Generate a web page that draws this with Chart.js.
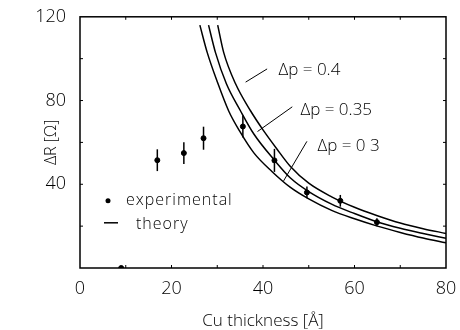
<!DOCTYPE html>
<html>
<head>
<meta charset="utf-8">
<script src="https://cdn.jsdelivr.net/npm/chart.js@4"></script>
<style>
  html, body { margin: 0; padding: 0; background: #fff; }
  #wrap { width: 460px; height: 330px; }
</style>
</head>
<body>
<div id="wrap"><canvas id="deltaChart" width="460" height="330"></canvas></div>
<script>
// =========================
// DATA
// =========================
const xTickLabels = [0, 20, 40, 60, 80];
const yTickLabels = [40, 80, 120];

// experimental points, ΔR in ohm vs Cu thickness in Å
const expThickness = [9, 16.9, 22.7, 27.0, 35.6, 42.5, 49.6, 56.9, 64.9];
const expDeltaR    = [0, 51.5, 54.9, 62.0, 67.6, 51.4, 36.1, 32.1, 21.9];
const expError     = [0, 5.2, 5.2, 5.5, 5.2, 5.5, 2.8, 2.8, 1.9];

// theory curves
const theoryX04 = [30.1, 31.4, 34, 37.3, 40, 43, 46, 50, 55, 60, 65, 70, 75, 80];
const theoryY04 = [116, 103, 88, 75, 66, 57, 48.5, 40.5, 34, 29, 25, 21.5, 18.8, 16.5];

const theoryX035 = [28.1, 29.6, 32, 35.1, 38, 42.5, 46, 50, 55, 60, 65, 70, 75, 80];
const theoryY035 = [116, 103, 88, 75, 64, 51.5, 43, 36.5, 30.5, 26, 22, 19, 16.5, 14.2];

const theoryX03 = [26.2, 27.8, 30, 32.5, 35, 38, 42, 46, 50, 55, 60, 65, 70, 75, 80];
const theoryY03 = [116, 103, 89, 75, 65, 55, 46, 38.5, 33, 27.5, 23.5, 20, 17, 14.3, 12];

// curve labels: text, text anchor (x, y), leader start, leader end (data units)
const curveLabels = ["Δp = 0.4", "Δp = 0.35", "Δp = 0 3"];
const labelAt   = [[43.4, 94.5], [48.2, 75.6], [51.9, 58.1]];
const leaderFrom = [[40.9, 95.1], [46.4, 77.0], [49.6, 60.5]];
const leaderTo   = [[36.2, 88.8], [38.8, 65.2], [44.5, 41.6]];

const FONT = "'Open Sans', 'Liberation Sans', sans-serif";

const pts = (xs, ys) => xs.map((x, i) => ({ x: x, y: ys[i] }));

const theoryStyle = {
    type: "line",
    borderColor: "#000",
    borderWidth: 1.5,
    pointRadius: 0,
    fill: false,
    cubicInterpolationMode: "monotone"
};

// =========================
// EXTRA DRAWING (error bars, frame, ticks, legend, labels)
// =========================
const decor = {
    id: "decor",
    afterDatasetsDraw(chart) {
        const ctx = chart.ctx;
        const xs = chart.scales.x;
        const ys = chart.scales.y;
        const area = chart.chartArea;

        ctx.save();
        ctx.strokeStyle = "#000";
        ctx.fillStyle = "#000";

        // error bars
        ctx.lineWidth = 1.5;
        expThickness.forEach((t, i) => {
            if (!expError[i]) return;
            const px = xs.getPixelForValue(t);
            ctx.beginPath();
            ctx.moveTo(px, ys.getPixelForValue(expDeltaR[i] - expError[i]));
            ctx.lineTo(px, ys.getPixelForValue(expDeltaR[i] + expError[i]));
            ctx.stroke();
        });

        // frame
        ctx.lineWidth = 1.5;
        ctx.strokeRect(area.left, area.top, area.right - area.left, area.bottom - area.top);

        // small inward ticks
        ctx.lineWidth = 1;
        for (let v = 10; v < 80; v += 10) {
            const px = xs.getPixelForValue(v);
            ctx.beginPath();
            ctx.moveTo(px, area.bottom); ctx.lineTo(px, area.bottom - 3);
            ctx.moveTo(px, area.top); ctx.lineTo(px, area.top + 3);
            ctx.stroke();
        }
        for (let v = 20; v < 120; v += 20) {
            const py = ys.getPixelForValue(v);
            ctx.beginPath();
            ctx.moveTo(area.left, py); ctx.lineTo(area.left + 3, py);
            ctx.moveTo(area.right, py); ctx.lineTo(area.right - 3, py);
            ctx.stroke();
        }

        // curve labels with leader lines
        ctx.font = "300 17px " + FONT;
        ctx.textBaseline = "middle";
        ctx.textAlign = "left";
        curveLabels.forEach((txt, i) => {
            ctx.beginPath();
            ctx.moveTo(xs.getPixelForValue(leaderFrom[i][0]), ys.getPixelForValue(leaderFrom[i][1]));
            ctx.lineTo(xs.getPixelForValue(leaderTo[i][0]), ys.getPixelForValue(leaderTo[i][1]));
            ctx.stroke();
            ctx.fillText(txt, xs.getPixelForValue(labelAt[i][0]), ys.getPixelForValue(labelAt[i][1]));
        });

        // legend
        const lx = area.left + 24;
        const ly = area.top + 184;
        ctx.beginPath();
        ctx.arc(lx + 4, ly, 2.5, 0, Math.PI * 2);
        ctx.fill();
        ctx.lineWidth = 1.5;
        ctx.beginPath();
        ctx.moveTo(lx, ly + 22); ctx.lineTo(lx + 14, ly + 22);
        ctx.stroke();
        ctx.font = "300 16px " + FONT;
        ctx.letterSpacing = "1px";
        ctx.fillText("experimental", lx + 22, ly);
        ctx.fillText("theory", lx + 32, ly + 24);

        ctx.restore();
    }
};

const canvas = document.getElementById("deltaChart");
const ctx = canvas.getContext("2d");

new Chart(ctx, {
    type: "scatter",
    data: {
        datasets: [
            {
                label: "experimental",
                data: pts(expThickness, expDeltaR),
                showLine: false,
                pointRadius: 2.5,
                pointBackgroundColor: "#000",
                pointBorderColor: "#000"
            },
            Object.assign({ label: "Δp = 0.4", data: pts(theoryX04, theoryY04) }, theoryStyle),
            Object.assign({ label: "Δp = 0.35", data: pts(theoryX035, theoryY035) }, theoryStyle),
            Object.assign({ label: "Δp = 0.3", data: pts(theoryX03, theoryY03) }, theoryStyle)
        ]
    },
    options: {
        responsive: false,
        animation: false,
        devicePixelRatio: 1,
        layout: { padding: { top: 14, right: 14, left: 0, bottom: 0 } },
        plugins: {
            legend: { display: false },
            tooltip: { enabled: false }
        },
        scales: {
            x: {
                type: "linear",
                min: 0,
                max: 80,
                afterFit: s => { s.height = 62; },
                afterBuildTicks: s => { s.ticks = xTickLabels.map(v => ({ value: v })); },
                grid: { display: false },
                border: { display: false },
                ticks: {
                    color: "#000",
                    padding: 2,
                    font: { family: FONT, size: 18, weight: 300 }
                },
                title: {
                    display: true,
                    text: "Cu thickness [Å]",
                    color: "#000",
                    padding: { bottom: 0 },
                    font: { family: FONT, size: 17, weight: 300, lineHeight: 1 }
                }
            },
            y: {
                type: "linear",
                min: 0,
                max: 120,
                afterFit: s => { s.width = 80; },
                afterBuildTicks: s => { s.ticks = yTickLabels.map(v => ({ value: v })); },
                grid: { display: false },
                border: { display: false },
                ticks: {
                    color: "#000",
                    padding: 6,
                    font: { family: FONT, size: 18, weight: 300 }
                },
                title: {
                    display: true,
                    text: "ΔR [Ω]",
                    color: "#000",
                    padding: { top: 42 },
                    font: { family: FONT, size: 16, weight: 300, lineHeight: 1.2 }
                }
            }
        }
    },
    plugins: [decor]
});
</script>
</body>
</html>
